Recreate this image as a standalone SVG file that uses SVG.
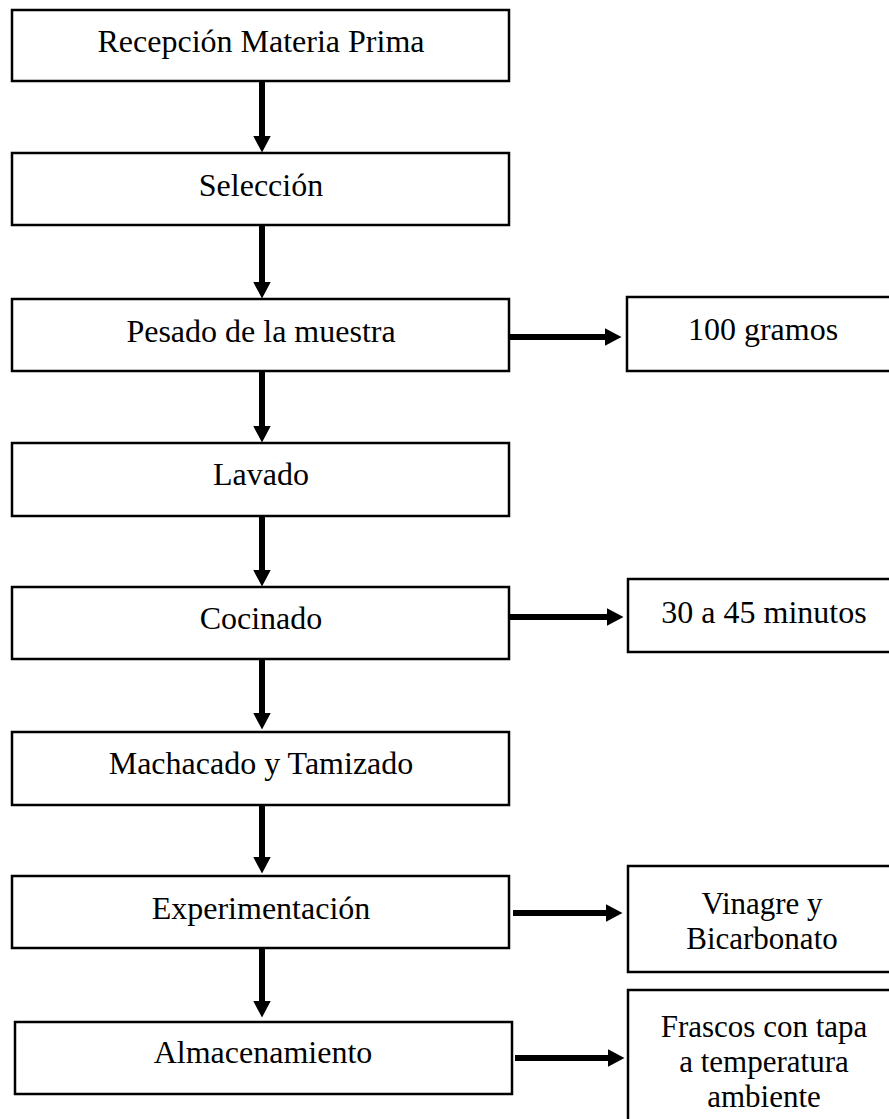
<svg xmlns="http://www.w3.org/2000/svg" width="889" height="1119" viewBox="0 0 889 1119">
  <style>
    .box { fill: #ffffff; stroke: #000000; stroke-width: 2.5; }
    .lbl { font-family: "Liberation Serif", "Times New Roman", serif; font-size: 32px; fill: #000000; text-anchor: middle; }
    .multi { font-size: 31px; }
    .flow { stroke: #000000; stroke-width: 6; fill: none; marker-end: url(#head); }
  </style>
  <defs>
    <marker id="head" markerUnits="userSpaceOnUse" viewBox="0 0 17 18" markerWidth="17" markerHeight="18" refX="0.5" refY="9" orient="auto">
      <path d="M0,0 L17,9 L0,18 Z" fill="#000000"/>
    </marker>
  </defs>
  <rect width="889" height="1119" fill="#ffffff"/>

  <!-- main process steps -->
  <g id="recepcion">
    <rect class="box" x="12" y="10" width="497" height="71"/>
    <text class="lbl" x="261" y="52">Recepción Materia Prima</text>
  </g>
  <g id="seleccion">
    <rect class="box" x="12" y="153" width="497" height="72"/>
    <text class="lbl" x="261" y="196">Selección</text>
  </g>
  <g id="pesado">
    <rect class="box" x="12" y="299" width="497" height="72"/>
    <text class="lbl" x="261" y="342">Pesado de la muestra</text>
  </g>
  <g id="lavado">
    <rect class="box" x="12" y="443" width="497" height="73"/>
    <text class="lbl" x="261" y="485">Lavado</text>
  </g>
  <g id="cocinado">
    <rect class="box" x="12" y="587" width="497" height="72"/>
    <text class="lbl" x="261" y="629">Cocinado</text>
  </g>
  <g id="machacado">
    <rect class="box" x="12" y="732" width="497" height="73"/>
    <text class="lbl" x="261" y="774">Machacado y Tamizado</text>
  </g>
  <g id="experimentacion">
    <rect class="box" x="12" y="876" width="497" height="72"/>
    <text class="lbl" x="261" y="919">Experimentación</text>
  </g>
  <g id="almacenamiento">
    <rect class="box" x="15" y="1022" width="497" height="72"/>
    <text class="lbl" x="263" y="1063">Almacenamiento</text>
  </g>

  <!-- side notes -->
  <g id="gramos">
    <rect class="box" x="627" y="297" width="275" height="74"/>
    <text class="lbl" x="763" y="340">100 gramos</text>
  </g>
  <g id="minutos">
    <rect class="box" x="628" y="579" width="275" height="73"/>
    <text class="lbl" x="764" y="623">30 a 45 minutos</text>
  </g>
  <g id="vinagre">
    <rect class="box" x="628" y="866" width="275" height="106"/>
    <text class="lbl multi" x="762" y="914">Vinagre y</text>
    <text class="lbl multi" x="762" y="949">Bicarbonato</text>
  </g>
  <g id="frascos">
    <rect class="box" x="628" y="990" width="275" height="150"/>
    <text class="lbl multi" x="764" y="1037">Frascos con tapa</text>
    <text class="lbl multi" x="764" y="1072">a temperatura</text>
    <text class="lbl multi" x="764" y="1107">ambiente</text>
  </g>

  <!-- connectors -->
  <g id="connectors">
    <line class="flow" x1="262" y1="82" x2="262" y2="136"/>
    <line class="flow" x1="262" y1="226" x2="262" y2="282"/>
    <line class="flow" x1="262" y1="372" x2="262" y2="426"/>
    <line class="flow" x1="262" y1="517" x2="262" y2="570"/>
    <line class="flow" x1="262" y1="660" x2="262" y2="713"/>
    <line class="flow" x1="262" y1="806" x2="262" y2="857"/>
    <line class="flow" x1="262" y1="949" x2="262" y2="1001"/>
    <line class="flow" x1="510" y1="337" x2="605" y2="337"/>
    <line class="flow" x1="510" y1="617" x2="607" y2="617"/>
    <line class="flow" x1="513" y1="913" x2="606" y2="913"/>
    <line class="flow" x1="515" y1="1058" x2="608" y2="1058"/>
  </g>
</svg>
